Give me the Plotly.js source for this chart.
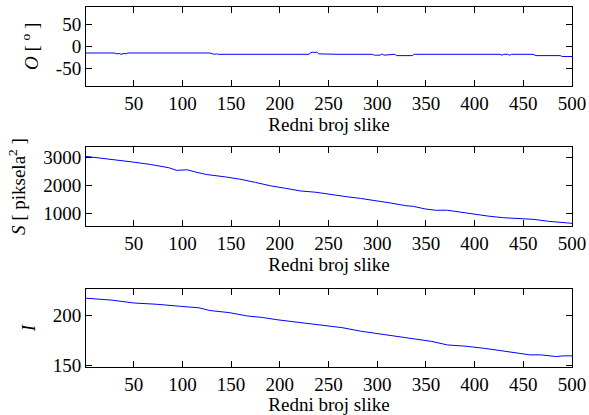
<!DOCTYPE html>
<html>
<head>
<meta charset="utf-8">
<script src="https://cdn.plot.ly/plotly-3.0.1.min.js"></script>
<style>
html,body{margin:0;padding:0;background:#fff;}
#chart{width:589px;height:415px;}
</style>
</head>
<body>
<div id="chart"></div>
<script>
// Frame numbers and orientation O [deg]
var frameO = [1, 30, 33, 35, 37, 40, 42, 44, 46, 60, 100, 128, 131, 133, 135, 137, 150, 200, 230, 232, 234, 236, 238, 240, 260, 295, 297, 303, 305, 307, 310, 318, 320, 336, 338, 380, 426, 428, 430, 434, 436, 438, 460, 463, 488, 490, 493, 495, 500];
var valO   = [-15, -15, -17, -16, -18, -16, -17, -15, -15, -15, -15, -15, -17, -18, -17, -18, -18, -18, -18, -14, -13, -14, -13, -17, -18, -18, -20, -20, -17, -20, -19, -18, -21, -21, -18, -18, -18, -20, -18, -18, -20, -18, -18, -21, -21, -23, -22, -23, -23];

// Frame numbers and area S [pixels^2]
var frameS = [1, 20, 35, 50, 67, 86, 94, 101, 105, 113, 125, 144, 159, 175, 190, 206, 221, 237, 252, 267, 283, 298, 314, 329, 337, 349, 360, 372, 383, 399, 414, 430, 445, 461, 476, 491, 500];
var valS   = [3030, 2960, 2907, 2826, 2744, 2628, 2535, 2558, 2555, 2477, 2384, 2302, 2221, 2105, 1988, 1895, 1802, 1756, 1674, 1605, 1535, 1465, 1372, 1279, 1256, 1163, 1116, 1116, 1058, 977, 907, 849, 814, 791, 721, 674, 651];

// Frame numbers and intensity I
var frameI = [1, 28, 50, 74, 99, 117, 128, 148, 167, 182, 198, 221, 244, 264, 283, 302, 322, 341, 356, 372, 391, 410, 430, 445, 457, 468, 484, 491, 500];
var valI   = [217.1, 215.1, 212.3, 211, 208.9, 207.5, 204.8, 202.7, 199.3, 197.9, 195.5, 192.8, 190.8, 187.7, 184.2, 181.5, 179.1, 176.7, 174, 170.5, 169.2, 167.1, 164.4, 162.3, 160.6, 160.6, 158.9, 159.6, 159.6];

var xTicks = [50, 100, 150, 200, 250, 300, 350, 400, 450, 500];
var yTicksO = [-50, 0, 50];
var yTicksS = [1000, 2000, 3000];
var yTicksI = [150, 200];
var xTitle = 'Redni broj slike';

var FAMILY = '"Liberation Serif", "Times New Roman", serif';
function F(){ return {family: FAMILY, size: 19, color: '#000'}; }
var lineStyle = {color: '#0000ff', width: 1};

var traces = [
  {x: frameO, y: valO, xaxis: 'x', yaxis: 'y', type: 'scatter', mode: 'lines', line: lineStyle},
  {x: frameS, y: valS, xaxis: 'x2', yaxis: 'y2', type: 'scatter', mode: 'lines', line: lineStyle},
  {x: frameI, y: valI, xaxis: 'x3', yaxis: 'y3', type: 'scatter', mode: 'lines', line: lineStyle}
];

function xax(anchor){
  return {
    anchor: anchor, range: [1, 500], tickvals: xTicks, ticktext: xTicks.map(String),
    ticks: 'inside', ticklen: 6, tickcolor: '#000', tickwidth: 1,
    showline: true, linecolor: '#000', linewidth: 1, mirror: 'ticks',
    showgrid: false, zeroline: false, tickfont: F(),
    title: {text: xTitle, font: F(), standoff: 4}
  };
}
function yax(anchor, domain, range, ticks, title){
  return {
    anchor: anchor, domain: domain, range: range, tickvals: ticks, ticktext: ticks.map(String),
    ticks: 'inside', ticklen: 6, tickcolor: '#000', tickwidth: 1,
    showline: true, linecolor: '#000', linewidth: 1, mirror: 'ticks',
    showgrid: false, zeroline: false, tickfont: F(),
    title: {text: title, font: F(), standoff: 12}
  };
}

var layout = {
  width: 589, height: 415,
  margin: {l: 86, r: 17, t: 7, b: 48},
  paper_bgcolor: '#fff', plot_bgcolor: '#fff',
  showlegend: false,
  font: F(),
  xaxis: xax('y'),
  xaxis2: xax('y2'),
  xaxis3: xax('y3'),
  yaxis: yax('x', [0.781, 1.0], [-90, 90], yTicksO, '<i>O</i> [ <sup>o</sup> ]'),
  yaxis2: yax('x2', [0.392, 0.610], [560, 3350], yTicksS, '<i>S</i> [ piksela<sup>2</sup> ]'),
  yaxis3: yax('x3', [0.0, 0.216], [148.5, 226], yTicksI, '<i>I</i>')
};

Plotly.newPlot('chart', traces, layout, {staticPlot: true, displayModeBar: false});
</script>
</body>
</html>
